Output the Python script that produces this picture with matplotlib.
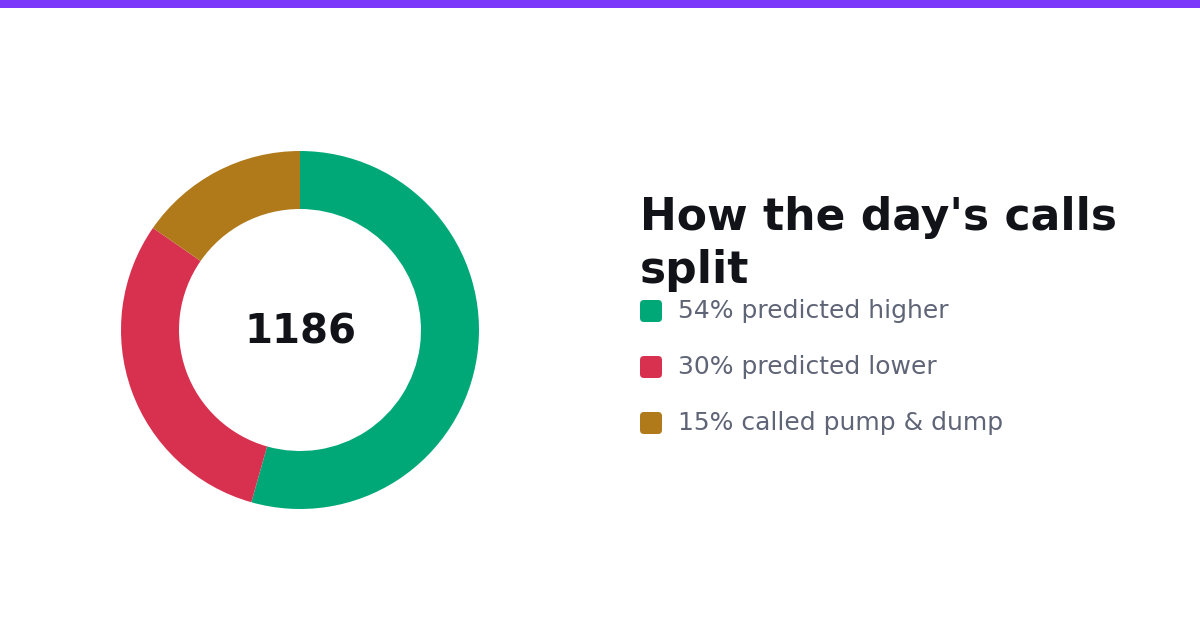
import matplotlib
matplotlib.use('Agg')
import matplotlib.pyplot as plt
from matplotlib.patches import Rectangle, FancyBboxPatch

# call counts for the day
labels = ['predicted higher', 'predicted lower', 'called pump & dump']
counts = [645, 359, 182]
colors = ['#00a878', '#d83150', '#b07a1a']
total = sum(counts)

plt.rcParams['font.family'] = ['DejaVu Sans']

fig = plt.figure(figsize=(12, 6.3), dpi=100)

# donut, centre at (300, 330) px, outer radius ~179 px
ax = fig.add_axes([120/1200, 120/630, 360/1200, 360/630])
ax.pie(counts, colors=colors, startangle=90, counterclock=False,
       radius=1.0, wedgeprops=dict(width=58/179, linewidth=0))
lim = 180/179
ax.set_xlim(-lim, lim)
ax.set_ylim(-lim, lim)
ax.set_aspect('equal')
ax.axis('off')
ax.text(0, -13/179, str(total), ha='center', va='baseline', fontsize=29,
        fontweight='bold', color='#111318')

# overlay in pixel coordinates for title, legend and top bar
ov = fig.add_axes([0, 0, 1, 1])
ov.set_xlim(0, 1200)
ov.set_ylim(630, 0)
ov.axis('off')
ov.patch.set_alpha(0)

ov.add_patch(Rectangle((0, 0), 1200, 8, color='#7b38fb', linewidth=0))

ov.text(640, 230, "How the day's calls", fontsize=31.7, fontweight='bold',
        color='#111318', va='baseline', ha='left')
ov.text(640, 283, "split", fontsize=31.7, fontweight='bold',
        color='#111318', va='baseline', ha='left')

for i, (lab, c, col) in enumerate(zip(labels, counts, colors)):
    y = 311 + i*56
    ov.add_patch(FancyBboxPatch((640, y - 11), 22, 22,
                                boxstyle='round,pad=0,rounding_size=4',
                                facecolor=col, edgecolor='none'))
    pct = int(100 * c / total)
    ov.text(678, y + 7, f'{pct}% {lab}', fontsize=18, color='#5f6577',
            va='baseline', ha='left')

fig.savefig('out.png', dpi=100)
